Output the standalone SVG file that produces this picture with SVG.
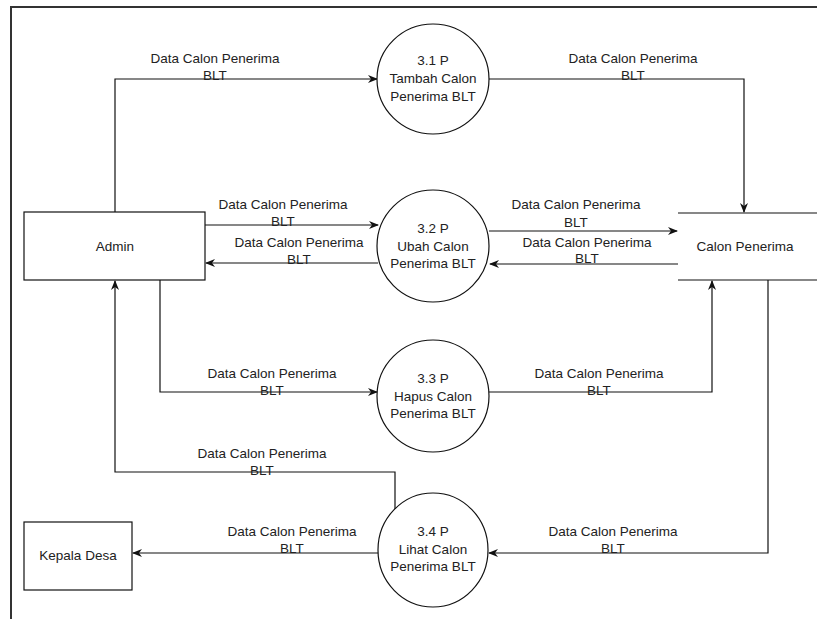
<svg xmlns="http://www.w3.org/2000/svg" width="817" height="619" viewBox="0 0 817 619">
<style>
text{font-family:"Liberation Sans",Arial,sans-serif;font-size:13.5px;fill:#222;text-anchor:middle}
.shape{fill:#fff;stroke:#111;stroke-width:1.2}
.edge{fill:none;stroke:#111;stroke-width:1.2}
.frame{fill:none;stroke:#333;stroke-width:2}
</style>
<defs>
<marker id="arr" viewBox="0 0 10 10" refX="9" refY="5" markerWidth="10" markerHeight="10" markerUnits="userSpaceOnUse" orient="auto">
<path d="M0,1 L10,5 L0,9 L3,5 Z" fill="#111"/>
</marker>
</defs>
<rect width="817" height="619" fill="#fff"/>
<path class="frame" d="M817,7 H11 V619"/>
<g id="connectors">
<path class="edge" d="M115,212 V79 H377" marker-end="url(#arr)"/>
<path class="edge" d="M489,79 H744 V212" marker-end="url(#arr)"/>
<path class="edge" d="M205,225 H378" marker-end="url(#arr)"/>
<path class="edge" d="M378,263 H206" marker-end="url(#arr)"/>
<path class="edge" d="M489,231 H677" marker-end="url(#arr)"/>
<path class="edge" d="M678,264 H490" marker-end="url(#arr)"/>
<path class="edge" d="M160,280 V392 H377" marker-end="url(#arr)"/>
<path class="edge" d="M489,392 H712 V281" marker-end="url(#arr)"/>
<path class="edge" d="M395,509 V472 H115 V281" marker-end="url(#arr)"/>
<path class="edge" d="M378,553 H133" marker-end="url(#arr)"/>
<path class="edge" d="M768,280 V553 H489" marker-end="url(#arr)"/>
</g>
<g id="labels">
<text x="215" y="63">Data Calon Penerima</text><text x="215" y="80">BLT</text>
<text x="633" y="63">Data Calon Penerima</text><text x="633" y="80">BLT</text>
<text x="283" y="209">Data Calon Penerima</text><text x="283" y="226">BLT</text>
<text x="299" y="247">Data Calon Penerima</text><text x="299" y="264">BLT</text>
<text x="576" y="209">Data Calon Penerima</text><text x="576" y="227">BLT</text>
<text x="587" y="247">Data Calon Penerima</text><text x="587" y="263">BLT</text>
<text x="272" y="378">Data Calon Penerima</text><text x="272" y="395">BLT</text>
<text x="599" y="378">Data Calon Penerima</text><text x="599" y="395">BLT</text>
<text x="262" y="458">Data Calon Penerima</text><text x="262" y="475">BLT</text>
<text x="292" y="536">Data Calon Penerima</text><text x="292" y="553">BLT</text>
<text x="613" y="536">Data Calon Penerima</text><text x="613" y="553">BLT</text>
</g>
<g id="admin">
<rect class="shape" x="24" y="212" width="181" height="68"/>
<text x="115" y="251">Admin</text>
</g>
<g id="kepala-desa">
<rect class="shape" x="24" y="522" width="108" height="68"/>
<text x="78" y="560">Kepala Desa</text>
</g>
<g id="calon-penerima">
<path class="edge" d="M678,213 H817 M678,280 H817"/>
<text x="745" y="251">Calon Penerima</text>
</g>
<g id="p31">
<ellipse class="shape" cx="433" cy="79" rx="56" ry="55"/>
<text x="433" y="65">3.1 P</text><text x="433" y="83">Tambah Calon</text><text x="433" y="101">Penerima BLT</text>
</g>
<g id="p32">
<ellipse class="shape" cx="433" cy="246" rx="56" ry="56"/>
<text x="433" y="233">3.2 P</text><text x="433" y="251">Ubah Calon</text><text x="433" y="268">Penerima BLT</text>
</g>
<g id="p33">
<ellipse class="shape" cx="433" cy="396" rx="56" ry="56"/>
<text x="433" y="383">3.3 P</text><text x="433" y="401">Hapus Calon</text><text x="433" y="418">Penerima BLT</text>
</g>
<g id="p34">
<ellipse class="shape" cx="433" cy="550" rx="55" ry="57"/>
<text x="433" y="536">3.4 P</text><text x="433" y="554">Lihat Calon</text><text x="433" y="571">Penerima BLT</text>
</g>
</svg>
